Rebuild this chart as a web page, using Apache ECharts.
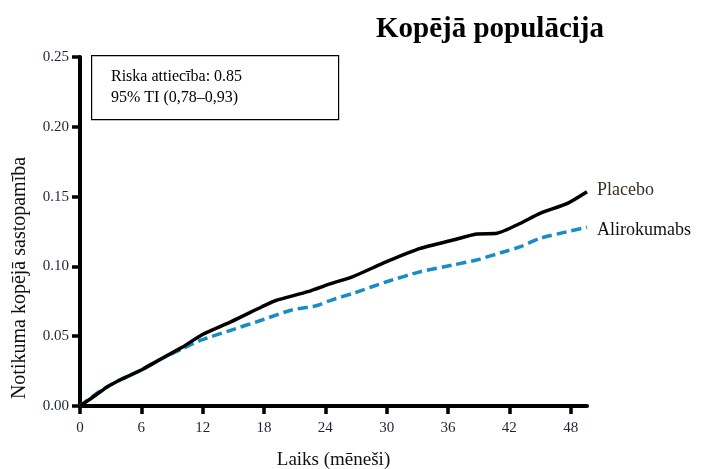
<!DOCTYPE html>
<html><head><meta charset="utf-8">
<script src="https://cdn.jsdelivr.net/npm/echarts@6/dist/echarts.min.js"></script>
<style>html,body{margin:0;padding:0;background:#fff}#c{width:709px;height:469px}</style>
</head><body><div id="c"></div>
<script>
const titleText = 'Kopējā populācija';
const xName = 'Laiks (mēneši)';
const yName = 'Notikuma kopējā sastopamība';
const boxLines = ['Riska attiecība: 0.85', '95% TI (0,78–0,93)'];
const xTicks = [0, 6, 12, 18, 24, 30, 36, 42, 48];
const yTicks = [0, 0.05, 0.10, 0.15, 0.20, 0.25];

const placeboT = [0, 1, 2.7, 4, 6, 8.3, 10, 11.9, 14.8, 17.8, 19.1, 22.3, 24.6, 26.7, 30, 33.3, 36.5, 38.8, 40.8, 43.1, 45, 47.7, 49.6];
const placeboV = [0, 0.005, 0.0138, 0.019, 0.0258, 0.0353, 0.042, 0.0509, 0.0604, 0.0711, 0.0754, 0.0819, 0.0878, 0.0927, 0.1034, 0.1129, 0.1189, 0.1232, 0.1237, 0.1309, 0.138, 0.1452, 0.1535];
const aliroT = [0, 2, 4, 6, 8, 10, 11.9, 14.8, 17.8, 20.7, 23, 24.6, 26.7, 30, 33.3, 36.5, 38.8, 41.5, 43.1, 45, 47.7, 49.6];
const aliroV = [0, 0.011, 0.019, 0.026, 0.034, 0.041, 0.0473, 0.0544, 0.0616, 0.0688, 0.0716, 0.0759, 0.0807, 0.089, 0.0962, 0.101, 0.1046, 0.1105, 0.1141, 0.1201, 0.1249, 0.128];

const serif = '"Liberation Serif", "DejaVu Serif", serif';
const chart = echarts.init(document.getElementById('c'));
const zip = (t, v) => t.map((x, i) => [x, v[i]]);

chart.setOption({
  animation: false,
  title: { text: titleText, left: 371, top: 10, textStyle: { fontFamily: serif, fontSize: 29, fontWeight: 'bold', color: '#000' } },
  grid: { left: 80, top: 57, right: 122, bottom: 63, outerBoundsMode: 'none', containLabel: false },
  xAxis: {
    type: 'value', min: 0, max: 49.6,
    name: xName, nameLocation: 'middle', nameGap: 45,
    nameTextStyle: { fontFamily: serif, fontSize: 19, color: '#111' },
    axisLine: { lineStyle: { color: '#000', width: 4 } },
    axisTick: { customValues: xTicks, length: 8, lineStyle: { color: '#000', width: 3.5 } },
    axisLabel: { customValues: xTicks, fontFamily: serif, fontSize: 15, color: '#1e2438', margin: 15 },
    splitLine: { show: false }
  },
  yAxis: {
    type: 'value', min: 0, max: 0.25, interval: 0.05,
    axisLine: { show: true, lineStyle: { color: '#000', width: 4 } },
    axisTick: { show: true, length: 8, lineStyle: { color: '#000', width: 3.5 } },
    axisLabel: { fontFamily: serif, fontSize: 15, color: '#1e2438', margin: 11, formatter: v => v.toFixed(2) },
    splitLine: { show: false }
  },
  graphic: [
    { type: 'rect', left: 91, top: 55, shape: { width: 247, height: 64 }, style: { fill: '#fff', stroke: '#000', lineWidth: 1.2 }, z: 10 },
    { type: 'text', left: 111, top: 66, style: { text: boxLines.join('\n'), font: '16px ' + serif, fill: '#000', lineHeight: 21 }, z: 11 },
    { type: 'text', x: 20, y: 278, rotation: Math.PI / 2, style: { text: yName, font: '20px ' + serif, fill: '#111', align: 'center', verticalAlign: 'middle' } }
  ],
  series: [
    {
      name: 'Alirokumabs', type: 'line', data: zip(aliroT, aliroV), symbol: 'none', smooth: 0.2,
      lineStyle: { color: '#1a8cc4', width: 3.5, type: [10, 5] },
      endLabel: { show: true, formatter: 'Alirokumabs', distance: 10, offset: [0, 3], fontFamily: serif, fontSize: 18, color: '#111' }
    },
    {
      name: 'Placebo', type: 'line', data: zip(placeboT, placeboV), symbol: 'none', smooth: 0.2,
      lineStyle: { color: '#000', width: 3.5 },
      endLabel: { show: true, formatter: 'Placebo', distance: 10, offset: [0, -1], fontFamily: serif, fontSize: 18, color: '#3a2e22' }
    }
  ]
});
</script></body></html>
